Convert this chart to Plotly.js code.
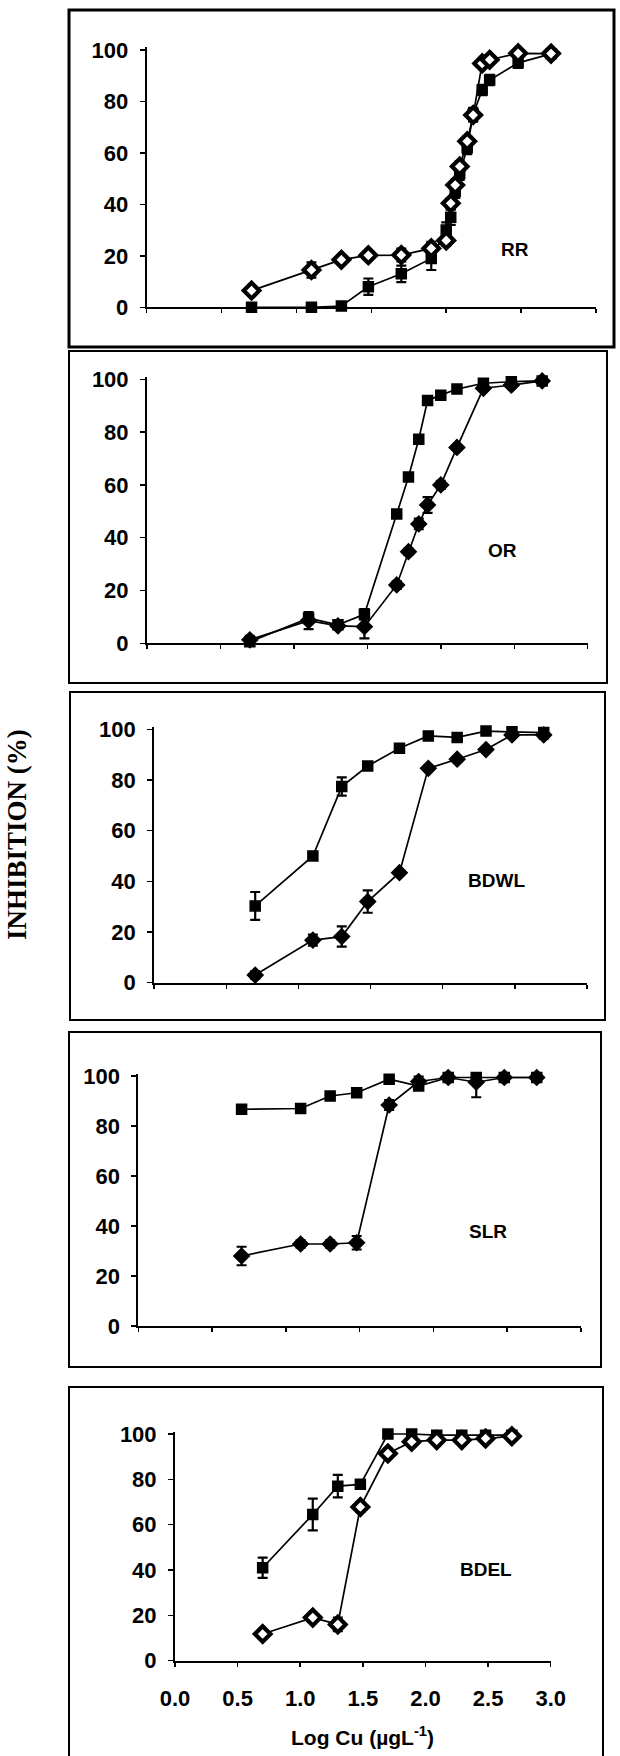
<!DOCTYPE html>
<html>
<head>
<meta charset="utf-8">
<script src="https://cdn.plot.ly/plotly-3.0.1.min.js"></script>
<style>html,body{margin:0;padding:0;background:#fff;}#chart{width:620px;height:1756px;}</style>
</head>
<body>
<div id="chart"></div>
<script>
// ---- Data (x = Log Cu, y = inhibition %) ----
const panelNames = ["RR", "OR", "BDWL", "SLR", "BDEL"];
const xTickVals = [0, 0.5, 1.0, 1.5, 2.0, 2.5, 3.0];
const xTickText = ["0.0", "0.5", "1.0", "1.5", "2.0", "2.5", "3.0"];
const yTickVals = [0, 20, 40, 60, 80, 100];

// RR
const logCu_RR = [0.70, 1.10, 1.30, 1.48, 1.70, 1.90, 2.00, 2.03, 2.06, 2.09, 2.14, 2.18, 2.24, 2.29, 2.48, 2.70];
const RR_square = [0, 0, 0.5, 8, 13, 19, 30, 35, 45, 52, 62, 75, 84.5, 88.3, 95, 98.5];
const RR_square_err = [0.5, 0.5, 0.8, 3.2, 3.2, 4.5, 3, 3, 2.5, 2.5, 2.5, 2.5, 2, 2, 2, 1];
const RR_diamond = [6.5, 14.5, 18.5, 20.2, 20.3, 22.9, 26, 40.4, 47.5, 54.7, 64.5, 74.7, 94.8, 96.2, 98.7, 98.6];
const RR_diamond_err = [1, 3, 1.5, 1, 2.5, 2.5, 2, 2, 2, 2, 2, 2.5, 1.5, 1.5, 1, 1];

// OR
const logCu_OR = [0.70, 1.10, 1.30, 1.48, 1.70, 1.78, 1.85, 1.91, 2.00, 2.11, 2.29, 2.48, 2.69];
const OR_square = [0.6, 9.5, 7, 11, 49, 63, 77.3, 92, 94, 96.3, 98.5, 99.1, 99.4];
const OR_square_err = [1.5, 2, 1, 2, 1, 1, 1, 1, 1, 1, 1, 1, 1];
const OR_diamond = [1.3, 8.6, 6.6, 6.3, 22.1, 34.7, 45.2, 52.4, 60, 74.2, 96.6, 97.8, 99.4];
const OR_diamond_err = [1.5, 3.2, 1, 4.4, 1.5, 1.2, 2, 3, 1.5, 1, 1, 1, 1];

// BDWL
const logCu_BDWL = [0.70, 1.10, 1.30, 1.48, 1.70, 1.90, 2.10, 2.30, 2.48, 2.70];
const BDWL_square = [30.3, 50, 77.4, 85.5, 92.5, 97.4, 96.8, 99.3, 99, 98.7];
const BDWL_square_err = [5.5, 1, 3.6, 1, 1, 1, 1, 1, 1, 1];
const BDWL_diamond = [3, 16.8, 18.2, 32, 43.4, 84.6, 88.2, 92, 97.8, 97.8];
const BDWL_diamond_err = [1.5, 2.2, 4, 4.4, 1, 1, 1, 1, 1, 1.5];

// SLR
const logCu_SLR = [0.70, 1.10, 1.30, 1.48, 1.70, 1.90, 2.10, 2.29, 2.48, 2.70];
const SLR_square = [86.7, 87, 92, 93.3, 98.7, 96, 99.4, 99.4, 99.4, 99.4];
const SLR_square_err = [1, 1, 1, 1, 1, 1, 1, 1, 1, 1];
const SLR_diamond = [28, 32.8, 32.8, 33.3, 88.4, 97.8, 99.4, 97.5, 99.4, 99.4];
const SLR_diamond_err = [3.7, 1.5, 1.5, 2.7, 2, 2, 1, 6, 1, 1];

// BDEL
const logCu_BDEL = [0.70, 1.10, 1.30, 1.48, 1.70, 1.89, 2.09, 2.29, 2.48, 2.69];
const BDEL_square = [41, 64.5, 77, 77.8, 100, 100, 99.5, 99.5, 99.5, 99.5];
const BDEL_square_err = [4.5, 7, 5, 1, 1, 1, 1, 1, 1, 1];
const BDEL_diamond = [11.8, 19, 16, 67.8, 91.4, 96.6, 97.3, 97.3, 98, 99];
const BDEL_diamond_err = [1, 1, 3, 2, 2, 1, 1, 1, 1, 1];

// ---- Layout geometry (pixels) ----
const W = 620, H = 1756;
const panels = [
  {x: logCu_RR, sq: RR_square, sqe: RR_square_err, di: RR_diamond, die: RR_diamond_err, openDi: true,
   X0: 146.7, X3: 596, Y0: 307.3, Y100: 50, box: [69, 10, 614, 347], bw: 3, lab: [2.46, 22.5]},
  {x: logCu_OR, sq: OR_square, sqe: OR_square_err, di: OR_diamond, die: OR_diamond_err, openDi: false,
   X0: 147, X3: 587.7, Y0: 643.3, Y100: 379.3, box: [69, 351, 607, 683], bw: 2, lab: [2.42, 35.3]},
  {x: logCu_BDWL, sq: BDWL_square, sqe: BDWL_square_err, di: BDWL_diamond, die: BDWL_diamond_err, openDi: false,
   X0: 154.2, X3: 587, Y0: 982.7, Y100: 729.3, box: [70, 692, 605, 1020], bw: 2, lab: [2.37, 40.5]},
  {x: logCu_SLR, sq: SLR_square, sqe: SLR_square_err, di: SLR_diamond, die: SLR_diamond_err, openDi: false,
   X0: 138.3, X3: 581, Y0: 1326, Y100: 1076, box: [69, 1032, 601, 1367], bw: 2, lab: [2.37, 37.7]},
  {x: logCu_BDEL, sq: BDEL_square, sqe: BDEL_square_err, di: BDEL_diamond, die: BDEL_diamond_err, openDi: true,
   X0: 175, X3: 550.7, Y0: 1660.7, Y100: 1434, box: [69, 1387, 603, 1770], bw: 2, lab: [2.48, 40.3]}
];

const tickFont = {family: "Liberation Sans, Arial, sans-serif", size: 22, color: "#000", weight: "bold"};
const YMAX = 101;
const traces = [];
const layout = {
  width: W, height: H, autosize: false,
  margin: {l: 0, r: 0, t: 0, b: 0},
  paper_bgcolor: "#fff", plot_bgcolor: "rgba(0,0,0,0)",
  showlegend: false, shapes: [], annotations: []
};

panels.forEach((p, i) => {
  const n = i === 0 ? "" : String(i + 1);
  const xa = "x" + n, ya = "y" + n;
  const errBar = arr => ({type: "data", array: arr, visible: true, color: "#000", thickness: 2.2, width: 5});
  traces.push({
    x: p.x, y: p.sq, xaxis: xa, yaxis: ya, type: "scatter", mode: "lines+markers", cliponaxis: false,
    line: {color: "#000", width: 1.7},
    marker: {symbol: "square", size: 10, color: "#000", line: {color: "#000", width: 1.5}},
    error_y: errBar(p.sqe)
  });
  traces.push({
    x: p.x, y: p.di, xaxis: xa, yaxis: ya, type: "scatter", mode: "lines+markers", cliponaxis: false,
    line: {color: "#000", width: 1.7},
    marker: p.openDi
      ? {symbol: "diamond", size: 12, color: "#fff", line: {color: "#000", width: 4.2}}
      : {symbol: "diamond", size: 12, color: "#000", line: {color: "#000", width: 1.5}},
    error_y: errBar(p.die)
  });
  const yBottom = 1 - p.Y0 / H;
  const yTopPx = p.Y0 - (YMAX / 100) * (p.Y0 - p.Y100);
  layout["xaxis" + n] = {
    domain: [p.X0 / W, p.X3 / W], range: [0, 3], anchor: ya,
    showline: true, linecolor: "#000", linewidth: 2, showgrid: false, zeroline: false,
    ticks: "outside", ticklen: 4, tickwidth: 1.5, tickcolor: "#000",
    tickvals: xTickVals, ticktext: xTickText, showticklabels: i === 4,
    tickfont: tickFont, ticklabelstandoff: 13, fixedrange: true
  };
  layout["yaxis" + n] = {
    domain: [yBottom, 1 - yTopPx / H], range: [0, YMAX], anchor: xa,
    showline: true, linecolor: "#000", linewidth: 2, showgrid: false, zeroline: false,
    ticks: "outside", ticklen: 5, tickwidth: 1.5, tickcolor: "#000",
    tickvals: yTickVals, tickfont: tickFont, ticklabelstandoff: 7, fixedrange: true
  };
  layout.shapes.push({
    type: "rect", xref: "paper", yref: "paper",
    x0: p.box[0] / W, x1: p.box[2] / W, y0: 1 - p.box[3] / H, y1: 1 - p.box[1] / H,
    line: {color: "#000", width: p.bw}, fillcolor: "rgba(0,0,0,0)", layer: "below"
  });
  layout.annotations.push({
    text: panelNames[i], xref: xa, yref: ya, x: p.lab[0], y: p.lab[1], showarrow: false,
    font: {family: "Liberation Sans, Arial, sans-serif", size: 19, color: "#000", weight: "bold"}
  });
});

layout.annotations.push({
  text: "INHIBITION (%)", xref: "paper", yref: "paper", x: 17 / W, y: 1 - 835 / H,
  textangle: -90, showarrow: false, xanchor: "center", yanchor: "middle",
  font: {family: "Liberation Serif, Times New Roman, serif", size: 27, color: "#000", weight: "bold"}
});
layout.annotations.push({
  text: "Log Cu (\u00b5gL<sup>-1</sup>)", xref: "paper", yref: "paper", x: 362 / W, y: 1 - 1736 / H,
  showarrow: false, xanchor: "center", yanchor: "middle",
  font: {family: "Liberation Sans, Arial, sans-serif", size: 21, color: "#000", weight: "bold"}
});

Plotly.newPlot("chart", traces, layout, {staticPlot: true, displayModeBar: false});
</script>
</body>
</html>
